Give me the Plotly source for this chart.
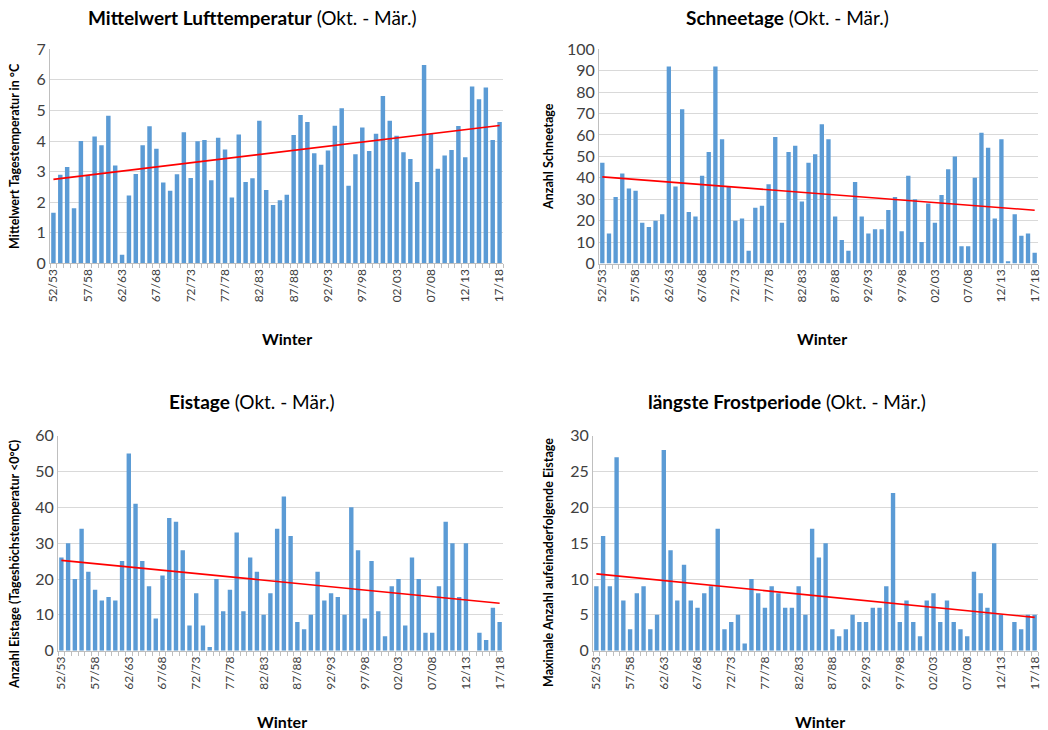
import numpy as np
import plotly.graph_objects as go

winters = ["52/53", "53/54", "54/55", "55/56", "56/57", "57/58", "58/59", "59/60", "60/61", "61/62",
           "62/63", "63/64", "64/65", "65/66", "66/67", "67/68", "68/69", "69/70", "70/71", "71/72",
           "72/73", "73/74", "74/75", "75/76", "76/77", "77/78", "78/79", "79/80", "80/81", "81/82",
           "82/83", "83/84", "84/85", "85/86", "86/87", "87/88", "88/89", "89/90", "90/91", "91/92",
           "92/93", "93/94", "94/95", "95/96", "96/97", "97/98", "98/99", "99/00", "00/01", "01/02",
           "02/03", "03/04", "04/05", "05/06", "06/07", "07/08", "08/09", "09/10", "10/11", "11/12",
           "12/13", "13/14", "14/15", "15/16", "16/17", "17/18"]

temp = [1.65, 2.9, 3.15, 1.8, 4.0, 2.88, 4.15, 3.86, 4.83, 3.2,
        0.28, 2.22, 2.92, 3.86, 4.48, 3.75, 2.64, 2.37, 2.91, 4.29,
        2.79, 3.99, 4.03, 2.72, 4.11, 3.72, 2.15, 4.21, 2.66, 2.78,
        4.66, 2.4, 1.91, 2.06, 2.24, 4.2, 4.85, 4.62, 3.6, 3.22,
        3.69, 4.5, 5.07, 2.54, 3.57, 4.44, 3.67, 4.24, 5.47, 4.66,
        4.17, 3.63, 3.41, 2.66, 6.49, 4.23, 3.09, 3.53, 3.71, 4.49,
        3.47, 5.78, 5.37, 5.75, 4.03, 4.62]

snow = [47, 14, 31, 42, 35, 34, 19, 17, 20, 23,
        92, 36, 72, 24, 22, 41, 52, 92, 58, 36,
        20, 21, 6, 26, 27, 37, 59, 19, 52, 55,
        29, 47, 51, 65, 58, 22, 11, 6, 38, 22,
        14, 16, 16, 25, 31, 15, 41, 30, 10, 28,
        19, 32, 44, 50, 8, 8, 40, 61, 54, 21,
        58, 1, 23, 13, 14, 5]

ice = [26, 30, 20, 34, 22, 17, 14, 15, 14, 25,
       55, 41, 25, 18, 9, 21, 37, 36, 28, 7,
       16, 7, 1, 20, 11, 17, 33, 11, 26, 22,
       10, 16, 34, 43, 32, 8, 6, 10, 22, 14,
       16, 15, 10, 40, 28, 9, 25, 11, 4, 18,
       20, 7, 26, 20, 5, 5, 18, 36, 30, 15,
       30, 0, 5, 3, 12, 8]

frost = [9, 16, 9, 27, 7, 3, 8, 9, 3, 5,
         28, 14, 7, 12, 7, 6, 8, 9, 17, 3,
         4, 5, 1, 10, 8, 6, 9, 8, 6, 6,
         9, 5, 17, 13, 15, 3, 2, 3, 5, 4,
         4, 6, 6, 9, 22, 4, 7, 4, 2, 7,
         8, 4, 7, 4, 3, 2, 11, 8, 6, 15,
         5, 0, 4, 3, 5, 5]

titles = [("Mittelwert Lufttemperatur", " (Okt. - Mär.)"),
          ("Schneetage", " (Okt. - Mär.)"),
          ("Eistage", " (Okt. - Mär.)"),
          ("längste Frostperiode", " (Okt. - Mär.)")]
ytitles = ["Mittelwert Tagestemperatur in °C",
           "Anzahl Schneetage",
           "Anzahl Eistage (Tageshöchstemperatur &lt;0°C)",
           "Maximale Anzahl aufeinaderfolgende Eistage"]
yranges = [(0, 7, 1), (0, 100, 10), (0, 60, 10), (0, 30, 5)]
series = [temp, snow, ice, frost]

W, H = 1048, 730
FONT = "Lato, 'Open Sans', sans-serif"
BLUE = "#5B9BD5"
GRID = "#D9D9D9"
AXL = "#BFBFBF"

# pixel boxes of plot areas: (x0, x1, ytop, ybottom)
boxes = [(50, 503, 49.3, 263.3), (599, 1038, 49.3, 263.5),
         (58, 503, 435.7, 650.7), (593, 1038, 435.7, 650.7)]
title_pos = [(252, 17.5), (787, 17.5), (252, 402), (787, 401)]
wint_pos = [(287, 338), (822, 338), (282, 721), (820, 721)]
ytit_pos = [(14, 156), (548, 157), (14, 565), (548, 563)]

fig = go.Figure()
ticktext = [w if i % 5 == 0 else "" for i, w in enumerate(winters)]
idx = np.arange(len(winters))

for k in range(4):
    n = "" if k == 0 else str(k + 1)
    vals = series[k]
    fig.add_trace(go.Bar(x=winters, y=vals, marker=dict(color=BLUE, line=dict(width=0)),
                         xaxis="x" + n, yaxis="y" + n, showlegend=False))
    a, b = np.polyfit(idx, np.array(vals, dtype=float), 1)
    trend = a * idx + b
    fig.add_trace(go.Scatter(x=winters, y=trend, mode="lines",
                             line=dict(color="#FF0000", width=1.6),
                             xaxis="x" + n, yaxis="y" + n, showlegend=False))
    x0, x1, yt, yb = boxes[k]
    fig.layout["xaxis" + n] = dict(
        domain=[x0 / W, x1 / W], anchor="y" + n, type="category", automargin=False,
        tickmode="array", tickvals=winters, ticktext=ticktext, tickangle=-90,
        ticks="outside", ticklen=4, tickcolor=AXL, tickson="boundaries",
        showline=True, linecolor=AXL, linewidth=1, showgrid=False,
        tickfont=dict(family=FONT, size=12, color="#404040"))
    lo, hi, dt = yranges[k]
    fig.layout["yaxis" + n] = dict(
        domain=[1 - yb / H, 1 - yt / H], anchor="x" + n, range=[lo, hi], dtick=dt,
        automargin=False,
        showgrid=True, gridcolor=GRID, gridwidth=1, showline=True, linecolor=AXL,
        zeroline=False, ticks="", tickfont=dict(family=FONT, size=16, color="#404040"))

    tx, ty = title_pos[k]
    fig.add_annotation(x=tx / W, y=1 - ty / H, xref="paper", yref="paper",
                       text="<b>" + titles[k][0] + "</b>" + titles[k][1],
                       showarrow=False, xanchor="center", yanchor="middle",
                       font=dict(family=FONT, size=19, color="#000000"))
    wx, wy = wint_pos[k]
    fig.add_annotation(x=wx / W, y=1 - wy / H, xref="paper", yref="paper",
                       text="<b>Winter</b>", showarrow=False, xanchor="center", yanchor="middle",
                       font=dict(family=FONT, size=16, color="#000000"))
    yx, yy = ytit_pos[k]
    fig.add_annotation(x=yx / W, y=1 - yy / H, xref="paper", yref="paper",
                       text="<b>" + ytitles[k] + "</b>", textangle=-90, showarrow=False,
                       xanchor="center", yanchor="middle",
                       font=dict(family=FONT, size=12.5, color="#000000"))

fig.update_layout(width=W, height=H, margin=dict(l=0, r=0, t=0, b=0, pad=0),
                  paper_bgcolor="white", plot_bgcolor="white", bargap=0.35,
                  showlegend=False, hovermode=False)
fig.write_html("out.html", config={"displayModeBar": False},
               post_script="document.body.style.margin='0';document.body.style.overflow='hidden';")
